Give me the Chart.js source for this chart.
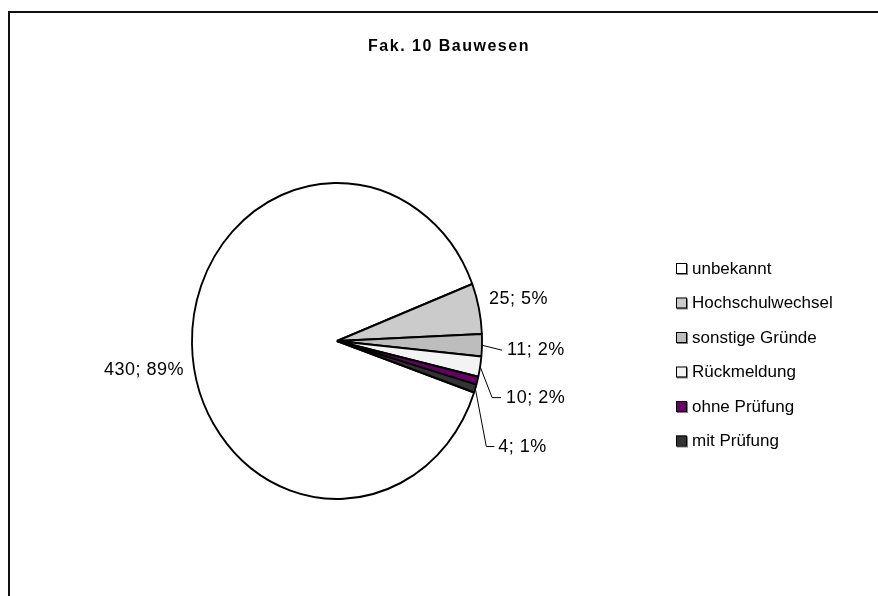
<!DOCTYPE html>
<html>
<head>
<meta charset="utf-8">
<script src="https://cdn.jsdelivr.net/npm/chart.js@4/dist/chart.umd.min.js"></script>
<style>
  body { margin: 0; background: #fff; }
  canvas { display: block; }
</style>
</head>
<body>
<canvas id="pie" width="878" height="596"></canvas>
<script>
const chartTitle = "Fak. 10 Bauwesen";
const categories = ["unbekannt", "Hochschulwechsel", "sonstige Gründe", "Rückmeldung", "ohne Prüfung", "mit Prüfung"];
const values = [430, 25, 11, 10, 4, 4];
const colors = ["#ffffff", "#cbcbcb", "#bdbdbd", "#f3f3f3", "#660066", "#333333"];
const showLabel = [true, true, true, true, false, true];

const FONT = "'Liberation Sans', Arial, sans-serif";
const squash = 0.918; // pie is drawn a bit narrower than tall

// where each data label sits, relative to the point on the rim at the slice middle
const labelPlace = [
  null,
  { dx: 10, dy: -9 },
  { dx: 25, dy: 5, line: [[20, 5]] },
  { dx: 26, dy: 31, line: [[12, 31], [21, 31]] },
  null,
  { dx: 23, dy: 58, line: [[11, 58], [19, 58]] }
];

const total = values.reduce((a, b) => a + b, 0);

const squashPlugin = {
  id: 'squash',
  beforeDatasetsDraw(chart) {
    const ctx = chart.ctx;
    const cx = (chart.chartArea.left + chart.chartArea.right) / 2;
    ctx.save();
    ctx.translate(cx, 0);
    ctx.scale(squash, 1);
    ctx.translate(-cx, 0);
  },
  afterDatasetsDraw(chart) {
    chart.ctx.restore();
  }
};

const decorPlugin = {
  id: 'decor',
  afterDraw(chart) {
    const ctx = chart.ctx;
    ctx.save();

    // frame
    ctx.strokeStyle = "#111";
    ctx.lineWidth = 2;
    ctx.beginPath();
    ctx.moveTo(9, 596);
    ctx.lineTo(9, 12);
    ctx.lineTo(878, 12);
    ctx.stroke();

    // title
    ctx.fillStyle = "#000";
    ctx.font = "bold 16px " + FONT;
    ctx.letterSpacing = "1.5px";
    ctx.textAlign = "center";
    ctx.textBaseline = "middle";
    ctx.fillText(chartTitle, 449, 47);

    // data labels
    const arcs = chart.getDatasetMeta(0).data;
    ctx.font = "18px " + FONT;
    ctx.letterSpacing = "0.5px";
    ctx.lineWidth = 1;
    ctx.strokeStyle = "#000";
    arcs.forEach((arc, i) => {
      if (!showLabel[i]) return;
      const txt = values[i] + "; " + Math.round(values[i] / total * 100) + "%";
      const r = arc.outerRadius;
      if (i === 0) {
        ctx.textAlign = "right";
        ctx.fillText(txt, arc.x - r * squash - 8, arc.y + 29);
        return;
      }
      const mid = (arc.startAngle + arc.endAngle) / 2;
      const ax = arc.x + Math.cos(mid) * r * squash;
      const ay = arc.y + Math.sin(mid) * r;
      const p = labelPlace[i];
      if (p.line) {
        ctx.beginPath();
        ctx.moveTo(ax, ay);
        p.line.forEach(pt => ctx.lineTo(ax + pt[0], ay + pt[1]));
        ctx.stroke();
      }
      ctx.textAlign = "left";
      ctx.fillText(txt, ax + p.dx, ay + p.dy);
    });

    // legend
    ctx.font = "17px " + FONT;
    ctx.letterSpacing = "0px";
    categories.forEach((name, i) => {
      const y = 268 + i * 34.5;
      ctx.fillStyle = "#808080";
      ctx.fillRect(677, y - 4, 11, 11);
      ctx.fillStyle = colors[i];
      ctx.fillRect(676, y - 5, 10, 10);
      ctx.strokeStyle = "#000";
      ctx.strokeRect(676.5, y - 4.5, 10, 10);
      ctx.fillStyle = "#000";
      ctx.textAlign = "left";
      ctx.fillText(name, 692, y + 1);
    });
    ctx.restore();
  }
};

new Chart(document.getElementById('pie'), {
  type: 'pie',
  data: {
    labels: categories,
    datasets: [{
      data: values,
      backgroundColor: colors,
      borderColor: "#000",
      borderWidth: 2
    }]
  },
  options: {
    responsive: false,
    animation: false,
    rotation: 109,
    layout: { padding: { left: 178, right: 382, top: 182, bottom: 96 } },
    plugins: {
      legend: { display: false },
      tooltip: { enabled: false },
      title: { display: false }
    }
  },
  plugins: [squashPlugin, decorPlugin]
});
</script>
</body>
</html>
